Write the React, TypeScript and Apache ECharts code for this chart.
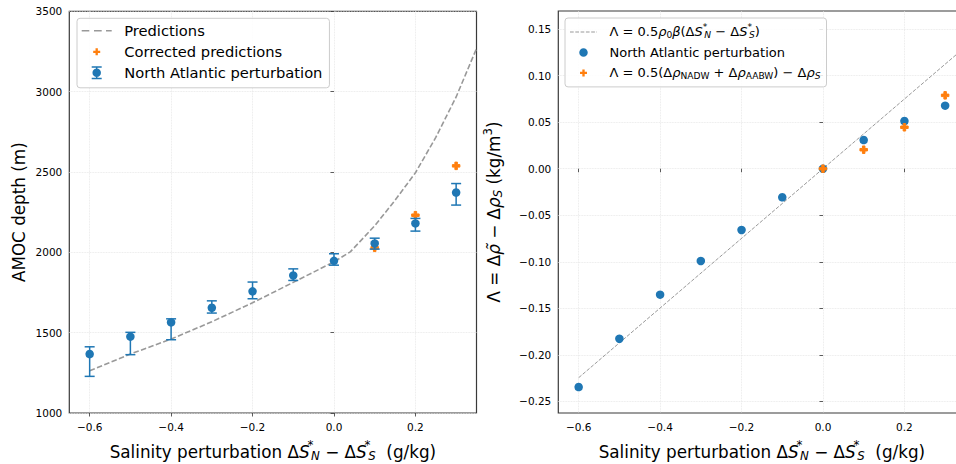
import React, { useEffect, useRef } from 'react';
import * as echarts from 'echarts';

const FONT = "'DejaVu Sans', Verdana, sans-serif";
const BLUE = '#1f77b4';
const ORANGE = '#ff7f0e';
const GRAY = '#999999';

// ---- data (left panel) ----
const perturbation = [-0.6, -0.5, -0.4, -0.3, -0.2, -0.1, 0.0, 0.1, 0.2, 0.3];
const amocDepth = [1367, 1475, 1564, 1655, 1757, 1856, 1947, 2055, 2180, 2372];
const amocLower = [1228, 1363, 1456, 1622, 1711, 1825, 1920, 2020, 2132, 2294];
const amocUpper = [1412, 1502, 1586, 1698, 1815, 1897, 1991, 2088, 2211, 2428];
const correctedX = [0.1, 0.2, 0.3];
const correctedDepth = [2028, 2231, 2538];
const predictionX = [-0.6, -0.5, -0.4, -0.3, -0.2, -0.1, 0.0, 0.04, 0.1, 0.15, 0.2, 0.25, 0.3, 0.35];
const predictionDepth = [1263, 1367, 1460, 1568, 1686, 1813, 1941, 2003, 2165, 2324, 2495, 2715, 2967, 3268];

// ---- data (right panel) ----
const lambdaPerturbation = [-0.2345, -0.1826, -0.1353, -0.0991, -0.0658, -0.0307, 0.0, 0.0308, 0.0512, 0.0677];
const lambdaCorrectedX = [0.0, 0.1, 0.2, 0.3];
const lambdaCorrected = [0.0, 0.0204, 0.0445, 0.0788];
const theoryX = [-0.6, 0.35];
const theoryLambda = [-0.2245, 0.131];

// ---- ticks ----
const xTicks = [-0.6, -0.4, -0.2, 0.0, 0.2];
const depthTicks = [1000, 1500, 2000, 2500, 3000, 3500];
const lambdaTicks = [-0.25, -0.2, -0.15, -0.1, -0.05, 0.0, 0.05, 0.1, 0.15];

const NAME_PRED = 'Predictions';
const NAME_CORR = 'Corrected predictions';
const NAME_NA = 'North Atlantic perturbation';
const NAME_THEORY = 'Λ = 0.5ρ0β(ΔS*N − ΔS*S)';
const NAME_DENS = 'Λ = 0.5(ΔρNADW + ΔρAABW) − ΔρS';

const minus = (s: string) => s.replace('-', '\u2212');

function anchors(w: number, h: number) {
  return `M0,0h0.01v0.01h-0.01Z M${w},${h}h-0.01v-0.01h0.01Z `;
}
function circlePath(cx: number, cy: number, r: number) {
  return `M${cx - r},${cy}a${r},${r} 0 1,1 ${2 * r},0a${r},${r} 0 1,1 ${-2 * r},0Z `;
}
function rectPath(x: number, y: number, w: number, h: number) {
  return `M${x},${y}h${w}v${h}h${-w}Z `;
}
function circleIcon(w: number, h: number, r: number) {
  return 'path://' + anchors(w, h) + circlePath(w / 2, h / 2, r);
}
function plusIcon(w: number, h: number, s: number) {
  const cx = w / 2, cy = h / 2, a = s / 2, t = s / 6;
  return (
    'path://' + anchors(w, h) +
    `M${cx - t},${cy - a}H${cx + t}V${cy - t}H${cx + a}V${cy + t}H${cx + t}V${cy + a}H${cx - t}V${cy + t}H${cx - a}V${cy - t}H${cx - t}Z`
  );
}
function errIcon(w: number, h: number, r: number) {
  const cx = w / 2, lw = 1.5, cap = 5;
  return (
    'path://' + anchors(w, h) +
    rectPath(cx - lw / 2, 0.5, lw, h - 1) +
    rectPath(cx - cap, 0.5, 2 * cap, lw) +
    rectPath(cx - cap, h - 0.5 - lw, 2 * cap, lw) +
    circlePath(cx, h / 2, r)
  );
}
function dashIcon(w: number, h: number, lw: number, dashes: number[][]) {
  let p = 'path://' + anchors(w, h);
  dashes.forEach(([a, b]) => {
    p += rectPath(a, h / 2 - lw / 2, b - a, lw);
  });
  return p;
}

function mathRich(fs: number, lh: number) {
  const sm = fs * 0.7;
  const base = { fontFamily: FONT, color: '#000', lineHeight: lh };
  return {
    g: { ...base, fontSize: fs, width: 7.5 },
    t: { ...base, fontSize: fs },
    i: { ...base, fontSize: fs, fontStyle: 'italic' },
    sub: { ...base, fontSize: sm, padding: [fs * 0.4, 0, 0, 0] },
    subi: { ...base, fontSize: sm, fontStyle: 'italic', padding: [fs * 0.42, 0, 0, 0] },
    sup: { ...base, fontSize: sm, padding: [0, 0, fs * 0.7, 0] },
    supn: { ...base, fontSize: sm, padding: [0, 0, fs * 0.8, 0], width: 1.5 },
  };
}

const legendRich: Record<string, string> = {
  [NAME_PRED]: '{t|Predictions}',
  [NAME_CORR]: '{t|Corrected predictions}',
  [NAME_NA]: '{t|North Atlantic perturbation}',
  [NAME_THEORY]:
    '{t|Λ = 0.5}{i|ρ}{sub|0}{i|β}{t|(Δ}{i|S}{supn|*}{subi|N}{t| − Δ}{i|S}{supn|*}{subi|S}{t|)}',
  [NAME_DENS]:
    '{t|Λ = 0.5(Δ}{i|ρ}{sub|NADW}{t| + Δ}{i|ρ}{sub|AABW}{t|) − Δ}{i|ρ}{subi|S}',
};

const X_NAME =
  '{t|Salinity perturbation Δ}{i|S}{supn|*}{subi|N}{t| − Δ}{i|S}{supn|*}{subi|S}{t|  (g/kg)}';
const Y_LEFT_NAME = '{t|AMOC depth (m)}';
const Y_RIGHT_NAME = '{t|Λ = Δ}{i|ρ̃}{t| − Δ}{i|ρ}{subi|S}{t| (kg/m}{sup|3}{t|)}';

const PLUS_SYMBOL = 'path://M-1,-3H1V-1H3V1H1V3H-1V1H-3V-1H-1Z';

export default function App() {
  const ref = useRef<HTMLDivElement>(null);
  useEffect(() => {
    if (!ref.current) return;
    const chart = echarts.init(ref.current, undefined, { renderer: 'svg' });

    const axisFs = 16.8;
    const tickFs = 10.5;
    const splitStyle = { color: '#e3e3e3', type: 'dotted', width: 0.8 };
    const tickStyle = { color: '#333', width: 0.8 };
    const iconStyle = (color: string) => ({ color, borderWidth: 0, borderColor: color });

    const xAxisBase = (gridIndex: number) => ({
      type: 'value',
      gridIndex,
      min: -0.65,
      max: 0.35,
      name: X_NAME,
      nameLocation: 'middle',
      nameGap: 27,
      nameTextStyle: { rich: mathRich(axisFs, 24) },
      axisLine: { show: false },
      axisTick: { show: true, length: 3.5, lineStyle: tickStyle, customValues: xTicks },
      axisLabel: {
        customValues: xTicks,
        margin: 8,
        fontSize: tickFs,
        fontFamily: FONT,
        color: '#000',
        formatter: (v: number) => minus(v.toFixed(1)),
      },
      splitLine: { show: true, lineStyle: splitStyle },
    });

    const errData = perturbation.map((x, i) => [x, amocDepth[i], amocLower[i], amocUpper[i]]);

    const gridBase = { show: true, borderColor: '#3a3a3a', borderWidth: 1.2, backgroundColor: 'transparent', outerBoundsMode: 'none', containLabel: false };

    const option: any = {
      animation: false,
      grid: [
        { ...gridBase, left: 69.3, top: 11.3, width: 407.2, height: 401.7 },
        { ...gridBase, left: 558.3, top: 11, width: 407.2, height: 402 },
      ],
      xAxis: [xAxisBase(0), xAxisBase(1)],
      yAxis: [
        {
          type: 'value',
          gridIndex: 0,
          min: depthTicks[0],
          max: depthTicks[depthTicks.length - 1],
          interval: 500,
          name: Y_LEFT_NAME,
          nameLocation: 'middle',
          nameGap: 38,
          nameTextStyle: { rich: mathRich(axisFs, 24) },
          axisLine: { show: false },
          axisTick: { show: true, length: 3.5, lineStyle: tickStyle },
          axisLabel: { margin: 7, fontSize: tickFs, fontFamily: FONT, color: '#000', formatter: (v: number) => String(v) },
          splitLine: { show: true, lineStyle: splitStyle },
        },
        {
          type: 'value',
          gridIndex: 1,
          min: -0.2624,
          max: 0.1694,
          name: Y_RIGHT_NAME,
          nameLocation: 'middle',
          nameGap: 52,
          nameTextStyle: { rich: mathRich(axisFs, 24) },
          axisLine: { show: false },
          axisTick: { show: true, length: 3.5, lineStyle: tickStyle, customValues: lambdaTicks },
          axisLabel: {
            customValues: lambdaTicks,
            margin: 7,
            fontSize: tickFs,
            fontFamily: FONT,
            color: '#000',
            formatter: (v: number) => minus(v.toFixed(2)),
          },
          splitLine: { show: true, lineStyle: splitStyle },
        },
      ],
      legend: [
        {
          orient: 'vertical',
          left: 77,
          top: 18.3,
          itemWidth: 30,
          itemHeight: 14,
          itemGap: 0,
          padding: [2, 7, 4.5, 4.7],
          backgroundColor: 'rgba(255,255,255,0.85)',
          borderColor: '#cccccc',
          borderWidth: 1,
          borderRadius: 3,
          selectedMode: false,
          itemStyle: { borderWidth: 0 },
          data: [
            { name: NAME_PRED, icon: dashIcon(30, 14, 1.6, [[0, 7.6], [12.3, 20], [24.3, 30]]), itemStyle: iconStyle(GRAY) },
            { name: NAME_CORR, icon: plusIcon(30, 14, 7), itemStyle: iconStyle(ORANGE) },
            { name: NAME_NA, icon: errIcon(30, 14, 4.25), itemStyle: iconStyle(BLUE) },
          ],
          textStyle: { fontFamily: FONT, fontSize: 14.7, lineHeight: 21, rich: mathRich(14.7, 21) },
          formatter: (name: string) => '{g| }' + (legendRich[name] || name),
        },
        {
          orient: 'vertical',
          left: 565,
          top: 18,
          itemWidth: 27,
          itemHeight: 14,
          itemGap: 0,
          padding: [3.7, 6, 3.7, 5],
          backgroundColor: 'rgba(255,255,255,0.85)',
          borderColor: '#cccccc',
          borderWidth: 1,
          borderRadius: 3,
          selectedMode: false,
          itemStyle: { borderWidth: 0 },
          data: [
            {
              name: NAME_THEORY,
              icon: dashIcon(27, 14, 1, [[0, 3.7], [5.3, 9], [10.6, 14.3], [15.9, 19.6], [21.2, 24.9], [26.5, 27]]),
              itemStyle: iconStyle(GRAY),
            },
            { name: NAME_NA, icon: circleIcon(27, 14, 4.25), itemStyle: iconStyle(BLUE) },
            { name: NAME_DENS, icon: plusIcon(27, 14, 7), itemStyle: iconStyle(ORANGE) },
          ],
          textStyle: { fontFamily: FONT, fontSize: 13, lineHeight: 20.5, rich: mathRich(13, 20.5) },
          formatter: (name: string) => '{g| }' + (legendRich[name] || name),
        },
      ],
      series: [
        {
          name: NAME_PRED,
          type: 'line',
          xAxisIndex: 0,
          yAxisIndex: 0,
          z: 2,
          symbol: 'none',
          data: predictionX.map((x, i) => [x, predictionDepth[i]]),
          lineStyle: { color: GRAY, width: 1.6, type: [5.5, 2.4] },
          itemStyle: { color: GRAY },
        },
        {
          name: NAME_CORR,
          type: 'scatter',
          xAxisIndex: 0,
          yAxisIndex: 0,
          z: 3,
          symbol: PLUS_SYMBOL,
          symbolSize: 7.5,
          itemStyle: { color: ORANGE, opacity: 1, borderColor: ORANGE, borderWidth: 1 },
          data: correctedX.map((x, i) => [x, correctedDepth[i]]),
        },
        {
          name: NAME_NA,
          type: 'custom',
          xAxisIndex: 0,
          yAxisIndex: 0,
          z: 4,
          itemStyle: { color: BLUE },
          encode: { x: 0, y: [1, 2, 3] },
          data: errData,
          renderItem: (_params: any, api: any) => {
            const x = api.value(0);
            const top = api.coord([x, api.value(3)]);
            const bot = api.coord([x, api.value(2)]);
            const cap = 5;
            const style = { stroke: BLUE, lineWidth: 1.5, fill: 'none' };
            return {
              type: 'group',
              children: [
                { type: 'line', shape: { x1: top[0], y1: top[1], x2: bot[0], y2: bot[1] }, style },
                { type: 'line', shape: { x1: top[0] - cap, y1: top[1], x2: top[0] + cap, y2: top[1] }, style },
                { type: 'line', shape: { x1: bot[0] - cap, y1: bot[1], x2: bot[0] + cap, y2: bot[1] }, style },
              ],
            };
          },
        },
        {
          name: NAME_NA,
          type: 'scatter',
          xAxisIndex: 0,
          yAxisIndex: 0,
          z: 5,
          symbol: 'circle',
          symbolSize: 8.5,
          itemStyle: { color: BLUE, opacity: 1 },
          data: perturbation.map((x, i) => [x, amocDepth[i]]),
        },
        {
          name: NAME_THEORY,
          type: 'line',
          xAxisIndex: 1,
          yAxisIndex: 1,
          z: 2,
          symbol: 'none',
          data: theoryX.map((x, i) => [x, theoryLambda[i]]),
          lineStyle: { color: GRAY, width: 1, type: [3.7, 1.6] },
          itemStyle: { color: GRAY },
        },
        {
          name: NAME_NA,
          type: 'scatter',
          xAxisIndex: 1,
          yAxisIndex: 1,
          z: 3,
          symbol: 'circle',
          symbolSize: 8.5,
          itemStyle: { color: BLUE, opacity: 1 },
          data: perturbation.map((x, i) => [x, lambdaPerturbation[i]]),
        },
        {
          name: NAME_DENS,
          type: 'scatter',
          xAxisIndex: 1,
          yAxisIndex: 1,
          z: 4,
          symbol: PLUS_SYMBOL,
          symbolSize: 7.5,
          itemStyle: { color: ORANGE, opacity: 1, borderColor: ORANGE, borderWidth: 1 },
          data: lambdaCorrectedX.map((x, i) => [x, lambdaCorrected[i]]),
        },
      ],
    };

    chart.setOption(option);
    return () => chart.dispose();
  }, []);

  return (
    <div
      ref={ref}
      style={{ position: 'fixed', left: 0, top: 0, width: 956, height: 464, background: '#fff' }}
    />
  );
}
